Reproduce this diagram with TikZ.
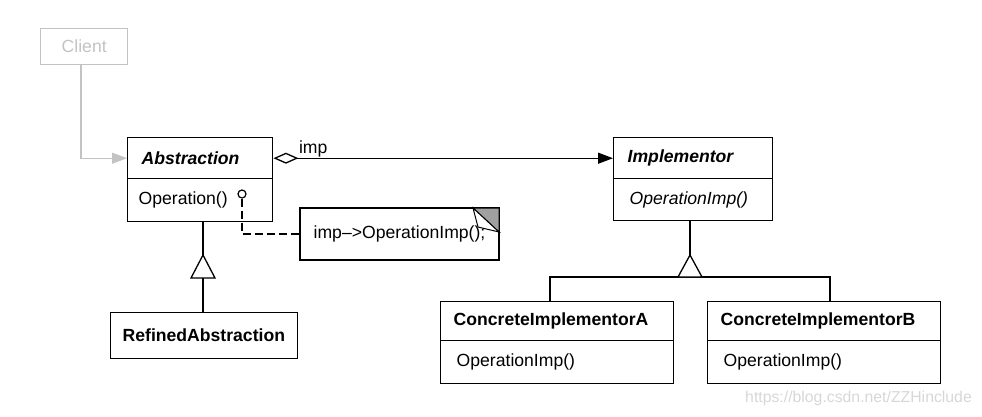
\documentclass[tikz,border=0pt]{standalone}
\usepackage{fontspec}
\setmainfont{Liberation Sans}
\usetikzlibrary{arrows.meta}
\definecolor{lightg}{RGB}{195,195,195}
\definecolor{wmg}{RGB}{215,215,215}
\definecolor{foldg}{RGB}{160,160,160}
\begin{document}
\begin{tikzpicture}[x=1pt,y=-1pt,
  txt/.style={font=\fontsize{17.6pt}{20pt}\selectfont},
  cls/.style={txt,draw,line width=1.4pt,inner xsep=14pt,inner ysep=0pt,align=left,anchor=north west},
  conn/.style={line width=1.3pt},
  tri/.style={line width=1.3pt,fill=white}]
\path[use as bounding box] (0,0) rectangle (982,416);

% Client
\node[cls,draw=lightg,text=lightg,text width=59pt,minimum height=36pt,align=center,inner xsep=14pt] (cl) at (40,28) {Client};

% Abstraction
\node[cls,text width=117pt,minimum height=41pt] (absH) at (127,137) {\bfseries\itshape Abstraction};
\node[cls,text width=117pt,minimum height=43pt,inner xsep=11pt,text width=123pt] (absB) at (127,178) {Operation()};

% Implementor
\node[cls,text width=131pt,minimum height=41pt] (impH) at (613,137) {\bfseries\itshape Implementor};
\node[cls,text width=131pt,minimum height=42pt,inner xsep=16pt,text width=127pt] (impB) at (613,178) {\itshape OperationImp()};

% RefinedAbstraction
\node[cls,text width=163pt,minimum height=46pt,inner xsep=12pt] (ref) at (110,312) {\bfseries RefinedAbstraction};

% ConcreteImplementorA
\node[cls,text width=207pt,minimum height=39pt,inner xsep=13pt] (ciaH) at (440,301) {\bfseries ConcreteImplementorA};
\node[cls,text width=201pt,minimum height=43pt,inner xsep=16pt] (ciaB) at (440,340) {OperationImp()};

% ConcreteImplementorB
\node[cls,text width=207pt,minimum height=39pt,inner xsep=13pt] (cibH) at (707,301) {\bfseries ConcreteImplementorB};
\node[cls,text width=201pt,minimum height=43pt,inner xsep=16pt] (cibB) at (707,340) {OperationImp()};

% Note
\node[cls,anchor=center,align=center,text width=173pt,minimum height=52pt,inner xsep=13pt] (note) at (399.5,234) {imp–>OperationImp();};
\fill[foldg,draw=black,line width=1pt] (473,208) -- (499,208) -- (499,232) -- cycle;
\filldraw[fill=white,draw=black,line width=1pt] (473,208) -- (478,227) -- (499,232) -- cycle;

% Client -> Abstraction
\draw[conn,draw=lightg,-{Triangle[length=15pt,width=11pt,fill=lightg]}] (cl.south -| 81,0) |- (absH.west);

% imp association
\draw[conn,{Diamond[open,length=25pt,width=11pt,fill=white]}-{Triangle[length=15pt,width=11pt]}] (absH.east) -- (impH.west)
  node[txt,pos=0,anchor=south west,xshift=24pt,yshift=-1pt,inner sep=1pt] (implbl) {imp};

% lollipop + dashed line to note
\node[circle,draw,line width=1.2pt,minimum size=8pt,inner sep=0pt] (dot) at (242,194) {};
\draw[conn,dash pattern=on 8pt off 4pt] (dot.south) |- (note.west);

% Abstraction <- RefinedAbstraction
\coordinate (apA) at (203,255);
\coordinate (baseA) at (203,278);
\draw[conn] (absB.south -| apA) -- (apA);
\draw[tri] (apA) -- ++(12,23) -- ++(-24,0) -- cycle;
\draw[conn] (baseA) -- (baseA |- ref.north);

% Implementor <- Concrete
\coordinate (apI) at (690,255);
\coordinate (baseI) at (690,277);
\coordinate (jA) at (550,277);
\coordinate (jB) at (830,277);
\draw[conn] (impB.south -| apI) -- (apI);
\draw[conn] (jA |- ciaH.north) -- (jA) -- (jB) -- (jB |- cibH.north);
\draw[tri] (apI) -- ++(12,22) -- ++(-24,0) -- cycle;

% watermark
\node[font=\fontsize{15.8pt}{18pt}\selectfont,text=wmg,anchor=east,inner sep=0pt] (wm) at (972,398) {https://blog.csdn.net/ZZHinclude};
\end{tikzpicture}
\end{document}
